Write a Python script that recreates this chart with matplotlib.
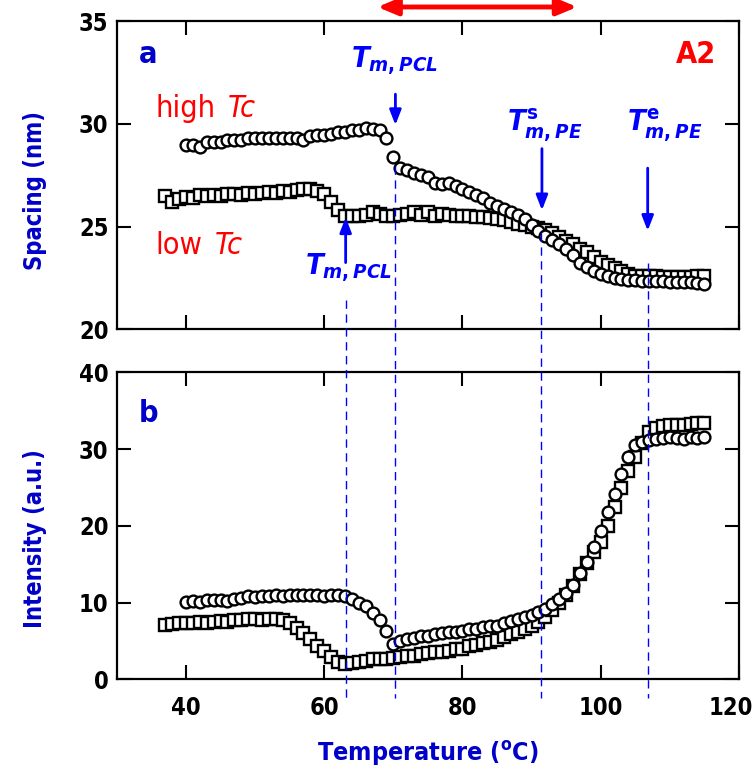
import matplotlib
matplotlib.use('Agg')
import matplotlib.pyplot as plt
from matplotlib.transforms import blended_transform_factory, ScaledTranslation

plt.rcParams['font.family'] = ['DejaVu Sans']
plt.rcParams['font.stretch'] = 'condensed'
plt.rcParams['font.weight'] = 'bold'
plt.rcParams['axes.labelweight'] = 'bold'
plt.rcParams['mathtext.fontset'] = 'custom'
plt.rcParams['mathtext.it'] = 'DejaVu Sans:italic:bold'
plt.rcParams['mathtext.rm'] = 'DejaVu Sans:bold'

# temperatures (C)
t_high = [40, 41, 42, 43, 44, 45, 46, 47, 48, 49, 50, 51, 52, 53, 54, 55, 56, 57, 58, 59,
          60, 61, 62, 63, 64, 65, 66, 67, 68, 69, 70, 71, 72, 73, 74, 75, 76, 77, 78, 79,
          80, 81, 82, 83, 84, 85, 86, 87, 88, 89, 90, 91, 92, 93, 94, 95, 96, 97, 98, 99,
          100, 101, 102, 103, 104, 105, 106, 107, 108, 109, 110, 111, 112, 113, 114, 115]
t_low = [37, 38, 39, 40, 41, 42, 43, 44, 45, 46, 47, 48, 49, 50, 51, 52, 53, 54, 55, 56,
         57, 58, 59, 60, 61, 62, 63, 64, 65, 66, 67, 68, 69, 70, 71, 72, 73, 74, 75, 76,
         77, 78, 79, 80, 81, 82, 83, 84, 85, 86, 87, 88, 89, 90, 91, 92, 93, 94, 95, 96,
         97, 98, 99, 100, 101, 102, 103, 104, 105, 106, 107, 108, 109, 110, 111, 112, 113, 114, 115]

# (a) long spacing (nm)
sp_high = [29.0, 29.0, 28.9, 29.1, 29.1, 29.1, 29.2, 29.2, 29.2, 29.3, 29.3, 29.3, 29.3, 29.3,
           29.3, 29.3, 29.3, 29.2, 29.4, 29.45, 29.45, 29.5, 29.6, 29.6, 29.7, 29.7, 29.8, 29.75,
           29.7, 29.3, 28.4, 27.85, 27.75, 27.6, 27.5, 27.4, 27.15, 27.1, 27.15, 27.0, 26.85,
           26.7, 26.55, 26.4, 26.15, 26.0, 25.85, 25.7, 25.55, 25.35, 25.1, 24.8, 24.55, 24.35,
           24.15, 23.9, 23.6, 23.25, 23.05, 22.85, 22.7, 22.6, 22.5, 22.45, 22.4, 22.4, 22.35,
           22.35, 22.35, 22.35, 22.3, 22.3, 22.3, 22.3, 22.25, 22.2]
sp_low = [26.5, 26.2, 26.35, 26.45, 26.4, 26.55, 26.5, 26.55, 26.5, 26.6, 26.6, 26.55, 26.65,
          26.6, 26.65, 26.7, 26.65, 26.75, 26.7, 26.8, 26.85, 26.85, 26.75, 26.6, 26.2, 25.8,
          25.5, 25.5, 25.5, 25.55, 25.7, 25.6, 25.5, 25.5, 25.55, 25.6, 25.7, 25.55, 25.7, 25.5,
          25.6, 25.55, 25.5, 25.5, 25.5, 25.45, 25.45, 25.4, 25.35, 25.3, 25.25, 25.15, 25.1,
          25.0, 24.95, 24.85, 24.7, 24.5, 24.3, 24.15, 23.9, 23.75, 23.5, 23.3, 23.15, 23.0,
          22.85, 22.7, 22.6, 22.6, 22.6, 22.6, 22.55, 22.55, 22.55, 22.55, 22.55, 22.6, 22.6]

# (b) intensity (a.u.)
int_high = [10.1, 10.2, 10.1, 10.4, 10.3, 10.4, 10.2, 10.5, 10.6, 10.8, 10.7, 10.8, 10.9, 11.0,
            10.8, 11.0, 11.0, 11.0, 11.0, 11.0, 10.9, 11.0, 11.0, 10.8, 10.5, 10.0, 9.5, 8.7,
            7.7, 6.3, 4.6, 5.0, 5.3, 5.4, 5.6, 5.7, 5.9, 6.0, 6.1, 6.2, 6.3, 6.5, 6.6, 6.8,
            6.9, 7.0, 7.3, 7.6, 7.9, 8.1, 8.4, 8.8, 9.2, 9.8, 10.5, 11.2, 12.3, 13.8, 15.3,
            17.3, 19.3, 21.8, 24.2, 26.7, 29.0, 30.5, 31.0, 31.2, 31.3, 31.5, 31.6, 31.4, 31.3,
            31.6, 31.5, 31.6]
int_low = [7.1, 7.2, 7.4, 7.3, 7.4, 7.5, 7.4, 7.5, 7.6, 7.5, 7.7, 7.7, 7.9, 7.9, 7.7, 7.8,
           7.8, 7.7, 7.3, 6.7, 6.0, 5.2, 4.4, 3.7, 2.9, 2.2, 2.0, 2.1, 2.3, 2.4, 2.6, 2.6,
           2.7, 2.8, 2.9, 3.0, 3.1, 3.3, 3.4, 3.5, 3.6, 3.7, 3.9, 4.0, 4.3, 4.5, 4.7, 4.9,
           5.1, 5.5, 5.9, 6.2, 6.6, 7.0, 7.5, 8.1, 9.0, 10.0, 11.0, 12.1, 13.7, 15.2, 16.6,
           17.9, 20.0, 22.4, 25.0, 27.1, 29.0, 30.8, 32.3, 32.8, 33.0, 33.1, 33.2, 33.2, 33.3,
           33.4, 33.4]

# transition temperatures marked by dashed lines
t_marks = [63.1, 70.3, 91.4, 106.8]
mark_top_px = [300, 166, 233, 263]

blue = '#0000ff'
dblue = '#0000c8'
red = '#ff0000'

fig = plt.figure(figsize=(7.54, 7.72), dpi=100)
ax1 = fig.add_axes([0.155, 0.5734, 0.825, 0.399])
ax2 = fig.add_axes([0.155, 0.1201, 0.825, 0.3974])

mk = dict(ls='none', mfc='white', mec='black', mew=1.7, ms=8.5, clip_on=False, zorder=3)
ax1.plot(t_low, sp_low, marker='s', **mk)
ax1.plot(t_high, sp_high, marker='o', **mk)
ax2.plot(t_low, int_low, marker='s', **mk)
ax2.plot(t_high, int_high, marker='o', **mk)

ax1.set_ylim(20, 35)
ax1.set_yticks([20, 25, 30, 35])
ax2.set_ylim(0, 40)
ax2.set_yticks([0, 10, 20, 30, 40])
for ax in (ax1, ax2):
    ax.set_xlim(30, 120)
    ax.set_xticks([40, 60, 80, 100, 120])
    ax.tick_params(direction='in', length=10, width=1.5, top=True, right=True, labelsize=17)
    ax.tick_params(axis='x', pad=12)
    ax.tick_params(axis='y', pad=6)
    for s in ax.spines.values():
        s.set_linewidth(1.6)
ax1.tick_params(labelbottom=False)

# the "120" label sits a little left of its tick so it stays inside the picture
lab120 = ax2.xaxis.get_major_ticks()[-1].label1
lab120.set_transform(lab120.get_transform() + ScaledTranslation(-6 / 72, 0, fig.dpi_scale_trans))

ax1.set_ylabel('Spacing (nm)', color=dblue, fontsize=17)
ax2.set_ylabel('Intensity (a.u.)', color=dblue, fontsize=17)
ax2.set_xlabel(r'Temperature ($^{\rm o}$C)', color=dblue, fontsize=18)
ax1.yaxis.set_label_coords(-0.112, 0.452)
ax2.yaxis.set_label_coords(-0.112, 0.46)
ax2.xaxis.set_label_coords(0.5, -0.195)

ax1.text(33.2, 33.4, 'a', color=dblue, fontsize=22, ha='left', va='center')
ax2.text(33.2, 34.7, 'b', color=dblue, fontsize=22, ha='left', va='center')
ax1.text(116.7, 33.4, 'A2', color=red, fontsize=22, ha='right', va='center')

t1 = ax1.text(35.6, 30.75, 'high', color=red, fontsize=22, weight='normal', va='center')
ax1.annotate('Tc', xy=(1, 0), xycoords=t1, xytext=(9, 0), textcoords='offset points',
             color=red, fontsize=22, weight='normal', style='italic', va='bottom')
t2 = ax1.text(35.6, 24.1, 'low', color=red, fontsize=22, weight='normal', va='center')
ax1.annotate('Tc', xy=(1, 0), xycoords=t2, xytext=(9, 0), textcoords='offset points',
             color=red, fontsize=22, weight='normal', style='italic', va='bottom')

tm_pcl = r'$T_{m,PCL}$'
ax1.text(70.2, 33.1, tm_pcl, color=blue, fontsize=21, ha='center', va='center')
ax1.text(63.5, 23.0, tm_pcl, color=blue, fontsize=21, ha='center', va='center')
ax1.text(91.9, 29.95, r'$T^{\mathrm{s}}_{m,PE}$', color=blue, fontsize=21, ha='center', va='center')
ax1.text(109.3, 29.95, r'$T^{\mathrm{e}}_{m,PE}$', color=blue, fontsize=21, ha='center', va='center')

arr = dict(arrowstyle='-|>,head_length=0.9,head_width=0.35', color=blue, lw=2,
           shrinkA=0, shrinkB=0)
ax1.annotate('', xy=(70.3, 29.95), xytext=(70.3, 31.45), arrowprops=arr)
ax1.annotate('', xy=(63.1, 25.45), xytext=(63.1, 23.25), arrowprops=arr)
ax1.annotate('', xy=(91.5, 25.8), xytext=(91.5, 28.8), arrowprops=arr)
ax1.annotate('', xy=(106.8, 24.8), xytext=(106.8, 27.85), arrowprops=arr)

# dashed guide lines running through both panels
tr = blended_transform_factory(ax2.transData, fig.transFigure)
for t, top in zip(t_marks, mark_top_px):
    fig.add_artist(plt.Line2D([t, t], [1 - top / 772, 1 - 698 / 772], transform=tr,
                              color=blue, lw=1.0, ls=(0, (6, 4))))

# red double-headed arrow above panel a
ax1.annotate('', xy=(96.6, 1 - 7 / 772), xytext=(67.7, 1 - 7 / 772),
             xycoords=tr, textcoords=tr,
             arrowprops=dict(arrowstyle='<|-|>,head_length=1.2,head_width=0.5',
                             color=red, lw=3.5, shrinkA=0, shrinkB=0))

plt.savefig('out.png', dpi=100)
